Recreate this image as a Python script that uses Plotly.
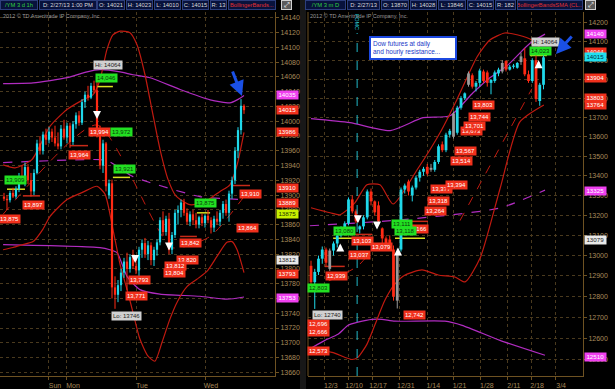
import math
import plotly.graph_objects as go

W, H = 615, 389

# ---------------- LEFT PANEL: /YM 3 d 1h (hourly) ----------------
L_open = [13898,13895,13893,13903,13898,13908,13925,13918,13938,13920,13905,13930,13970,13960,13982,13975,13986,13978,13970,13966,
          13990,13978,13994,13972,13996,14008,13998,14026,14036,14032,14048,14042,13985,13940,13970,13900,13916,13775,13765,13778,
          13795,13810,13800,13816,13804,13798,13826,13835,13820,13832,13812,13826,13836,13866,13850,13868,13826,13846,13876,13880,
          13890,13876,13864,13874,13866,13860,13870,13862,13872,13866,13856,13868,13864,13876,13888,13876,13902,13920,13960,13988,14021]
L_high = [13903,13900,13906,13910,13912,13930,13940,13944,13942,13930,13935,13975,13980,13986,13990,13992,13990,13994,13985,13995,
          14002,13998,13998,14000,14012,14014,14030,14040,14048,14052,14055,14064,13994,13975,13972,13921,13921,13790,13785,13800,
          13815,13822,13820,13826,13815,13830,13840,13842,13838,13836,13830,13840,13870,13878,13872,13876,13850,13880,13886,13894,
          13895,13882,13878,13880,13876,13872,13875,13874,13880,13870,13872,13878,13880,13892,13894,13906,13925,13965,13992,14030,14023]
L_low = [13892,13880,13890,13896,13895,13904,13915,13912,13915,13898,13900,13928,13955,13955,13968,13970,13972,13966,13962,13962,
         13975,13970,13964,13968,13990,13994,13995,14018,14028,14030,14038,13978,13935,13930,13905,13895,13760,13746,13755,13770,
         13788,13771,13795,13800,13793,13785,13815,13815,13812,13805,13804,13818,13832,13845,13845,13820,13820,13842,13860,13870,
         13872,13860,13858,13860,13855,13855,13858,13856,13862,13848,13850,13860,13858,13868,13872,13864,13895,13915,13950,13982,14010]
L_close = [13895,13893,13903,13898,13908,13925,13918,13938,13920,13905,13930,13970,13960,13982,13975,13986,13978,13970,13966,13990,
           13978,13994,13972,13996,14008,13998,14026,14036,14032,14048,14042,13985,13940,13970,13912,13916,13775,13765,13778,13795,
           13810,13800,13816,13804,13798,13826,13835,13820,13832,13812,13826,13836,13866,13850,13868,13826,13846,13876,13880,13890,
           13876,13864,13874,13866,13860,13870,13862,13872,13866,13856,13868,13864,13876,13888,13876,13902,13920,13960,13988,14021,14015]
L_day_tick_idx = [15, 21, 44, 67]
L_day_tick_txt = ["Sun", "Mon", "Tue", "Wed"]
L_price_ticks = list(range(13660, 14141, 20))

# Bollinger bands (hourly) and other study lines, as (bar index, price)
L_bbu_x = [-0.3,3.7,9.3,15.3,21,26.3,29.7,32,34.3,36.3,38.7,42,44.3,47,49.3,52,54.7,57.3,62,67,72,75.3,77.7,80]
L_bbu_y = [13941,13937,13948,13993,14016,14029,14036,14056,14097,14117,14122,14120,14104,14063,14016,13962,13921,13899,13887,13891,13905,13914,13941,13985]
L_bbl_x = [-0.3,3,6.3,9.7,13,15.3,21,26.3,31,33.7,36.3,38.7,41.3,43,45.3,48,50.3,52.7,55.3,57.7,61,64.3,67.7,71,74.3,76,77.7,80]
L_bbl_y = [13826,13829,13833,13837,13854,13871,13894,13904,13912,13901,13854,13806,13768,13741,13705,13682,13675,13701,13732,13755,13776,13786,13797,13817,13836,13837,13826,13795]
L_pu_x = [-0.3,9.7,21,27.7,32,38.7,43,48.7,58.7,68.7,75.3,77.7,80]
L_pu_y = [14051,14052,14059,14067,14070,14067,14063,14059,14043,14029,14025,14029,14035]
L_pl_x = [-0.3,32,35.3,37.7,41,45.3,52,65.3,74.3,80]
L_pl_y = [13833,13829,13826,13822,13790,13772,13766,13763,13759,13762]
L_pd_x = [-0.3,32,35.3,43,48.7,65.3,80]
L_pd_y = [13944,13948,13945,13925,13917,13898,13894]
L_zz_x = [-0.3,31,56,68.7,80]
L_zz_y = [13874,13995,13829,13844,13898]

L_red_lbl = ["13,875","13,897","13,964","13,994","13,793","13,771","13,842","13,820","13,812","13,804","13,910","13,864"]
L_red_x = [2,9.7,25,31.7,45,44.3,62.3,61.3,57.3,56.7,82.3,81.3]
L_red_y = [13867,13887,13955,13985,13785,13763,13835,13812,13804,13794,13901,13855]
L_grn_lbl = ["14,046","13,972","13,921","13,909","13,875"]
L_grn_x = [34.3,39.3,40,4,67]
L_grn_y = [14058,13985,13935,13920,13889]
L_gry_lbl = ["Hi: 14064", "Lo: 13746"]
L_gry_x = [34.7, 40.7]
L_gry_y = [14076, 13736]
L_dn_arrow_x = [31, 43.7, 55]
L_dn_arrow_y = [14003, 13808, 13825]
# short level markers: start bar, end bar, price
L_ylw_x0 = [31, 36.3, 1, 64.3]
L_ylw_x1 = [36.3, 42, 7, 68.7]
L_ylw_v = [14047, 13924, 13908, 13876]
L_rdm_x0 = [6.3, 22, 76.3, 58.7]
L_rdm_x1 = [12, 28, 82, 64.3]
L_rdm_v = [13899, 13967, 13913, 13844]
L_axis_lbl = ["14035","14015","13986","13910","13889","13875","13812","13793","13753"]
L_axis_val = [14035,14015,13986,13910,13889,13875,13812,13793,13760]
L_axis_col = ["mag","red","red","red","red","lime","white","red","mag"]

# ---------------- RIGHT PANEL: /YM 3 m D (daily) ----------------
R_open = [12950,12870,12920,12985,13030,12935,13025,13060,13100,13135,13160,13280,13220,13130,13145,13190,13320,13270,13250,13135,
          13085,13080,13030,12780,13030,13330,13370,13300,13340,13390,13420,13445,13440,13430,13470,13560,13530,13610,13720,13620,
          13750,13800,13930,13920,13860,13880,13940,13935,13880,13890,13930,13985,13995,13950,13965,13960,14020,14010,13925,13890,
          14000,13785,13870]
R_high = [12975,12935,13000,13045,13040,13035,13070,13110,13145,13170,13290,13300,13230,13150,13200,13330,13335,13275,13270,13140,
          13095,13100,13050,13035,13340,13360,13380,13350,13400,13430,13445,13460,13460,13480,13560,13575,13620,13640,13730,13760,
          13810,13830,13940,13930,13890,13955,13950,13945,13900,13945,13960,14000,14000,13975,13980,13990,14040,14064,13945,14010,
          14028,13880,14028]
R_low = [12860,12740,12905,12960,12950,12925,13000,13040,13090,13120,13150,13210,13160,13110,13130,13180,13250,13200,13150,13060,
         13040,13040,12780,12742,13020,13310,13300,13270,13330,13370,13400,13400,13420,13420,13460,13520,13520,13595,13590,13610,
         13740,13790,13860,13850,13835,13860,13880,13860,13820,13880,13915,13930,13940,13945,13955,13955,13975,13915,13880,13880,
         13780,13760,13846]
R_close = [12870,12920,12985,13030,12965,13025,13060,13100,13135,13160,13280,13220,13170,13145,13190,13320,13270,13215,13170,13085,
           13050,13055,12800,13020,13330,13350,13320,13340,13390,13420,13435,13410,13430,13470,13550,13530,13610,13630,13600,13750,
           13800,13825,13870,13860,13880,13945,13890,13880,13895,13935,13950,13940,13950,13965,13970,13985,13990,13925,13890,14000,
           13795,13870,14015]
R_gray_idx = [5, 23, 32, 38, 42, 51, 56]
R_date_tick_idx = [3.7, 9.9, 16.3, 23.7, 31, 38, 45.3, 52.5, 58.7, 65.1]
R_date_tick_txt = ["12/3", "12/10", "12/17", "12/31", "1/14", "1/21", "1/28", "2/11", "2/18", "3/4"]
R_price_ticks = list(range(12500, 14201, 100))
R_event_idx = 12.3
R_event_txt = "FOMC"

R_bbu_x = [0,5.1,7.7,11.7,14.9,18.4,21.9,28.3,34.4,38.9,44.3,47.7,51.7,55.2,58.9,62.1]
R_bbu_y = [13238,13213,13203,13263,13354,13354,13257,13430,13620,13792,14018,14107,14145,14134,14107,14044]
R_bbl_x = [0,5.6,10.9,12.5,14.9,17.1,19.7,22.4,25.1,29.6,33.9,38.4,41.1,45.1,50.4,55.7,62.1]
R_bbl_y = [12542,12532,12498,12508,12570,12666,12782,12861,12905,12930,12905,12895,12871,12988,13334,13676,13764]
R_pu_x = [0,10.4,21.1,29.9,37.1,43.2,47.7,52.3,58.4,62.4]
R_pu_y = [13693,13672,13631,13698,13708,13828,13907,13971,14090,14139]
R_pl_x = [0.3,3.7,7.2,9.9,12.5,16.3,18.9,22.4,35.7,40.3,50.4,62.4]
R_pl_y = [12555,12589,12618,12661,12676,12690,12690,12681,12681,12661,12589,12518]
R_pd_x = [-0.3,23.7,50.4,62.4]
R_pd_y = [13148,13177,13237,13327]
R_zz1_x = [0.3,7.2,12.5,16.3,19.5]
R_zz1_y = [12842,12896,12949,13027,13100]
R_zz2_x = [39.7,58.9]
R_zz2_y = [13173,13849]

R_red_lbl = ["12,696","12,666","12,573","12,939","13,037","13,103","13,079","13,166","12,742","13,264","13,318","13,377",
             "13,394","13,514","13,567","13,673","13,701","13,744","13,803"]
R_red_x = [2.1,2.1,2.1,6.9,12.8,13.6,18.7,28.3,27.5,33.3,34.1,34.9,38.9,40,41.3,42.9,43.7,44.8,45.9]
R_red_y = [12665,12627,12536,12901,13002,13071,13042,13130,12710,13224,13274,13334,13354,13474,13525,13628,13654,13700,13763]
R_grn_lbl = ["12,803","13,080","13,111","13,118","14,023"]
R_grn_x = [2.1,8.8,24.3,25.3,61.3]
R_grn_y = [12842,13120,13155,13120,14049]
R_gry_lbl = ["Lo: 12740", "H: 14064"]
R_gry_x = [4.3, 62.4]
R_gry_y = [12710, 14097]
R_up_arrow_x = [7.8, 23.2, 60.7]
R_up_arrow_y = [13060, 13040, 14000]
R_dn_arrow_x = [12.5, 17.6]
R_dn_arrow_y = [13160, 13130]
R_ylw_x0 = [5.9, 22.4, 58.4]
R_ylw_x1 = [11.7, 30.4, 62.9]
R_ylw_v = [13086, 13086, 14025]
R_rdm_x0 = [3.7, 11, 26]
R_rdm_x1 = [9, 16.3, 31.2]
R_rdm_v = [12947, 13105, 13170]
R_axis_lbl = ["14140","14044","14015","13904","13803","13764","13325","13079","12510"]
R_axis_val = [14140,14044,14015,13904,13803,13764,13325,13079,12510]
R_axis_col = ["mag","red","cyan","red","red","red","mag","white","mag"]

# ---------------- styling ----------------
CYAN = "#1fd8ea"
RED = "#ff2a14"
GRAY = "#9a9a9a"
BROWN = "#6e5222"
TAN = "#a88a5a"
GRID = "#4a3a1e"
PURPLE = "#b02cc0"
BANDRED = "#c01a10"
FONT = "Liberation Sans"

BOX = {"red": ("#f0301c", "#ffffff"), "mag": ("#f040f0", "#ffffff"), "cyan": ("#20e0f0", "#003040"),
       "white": ("#e8e8e8", "#202020"), "lime": ("#c8f000", "#203000")}

fig = go.Figure()


def add_candles(o, h, l, c, gray, xa, ya, bw, minh):
    groups = {CYAN: ([], [], [], []), RED: ([], [], [], []), GRAY: ([], [], [], [])}
    for i in range(len(o)):
        if i in gray:
            col = GRAY
        elif c[i] >= o[i]:
            col = CYAN
        else:
            col = RED
        wx, wy, bx, by = groups[col]
        wx += [i, i, None]
        wy += [l[i], h[i], None]
        top, bot = max(o[i], c[i]), min(o[i], c[i])
        if top - bot < minh:
            top = bot + minh
        bx += [i, i, None]
        by += [bot, top, None]
    for col, (wx, wy, bx, by) in groups.items():
        fig.add_trace(go.Scatter(x=wx, y=wy, mode="lines", line=dict(color=col, width=1),
                                 xaxis=xa, yaxis=ya, hoverinfo="skip", showlegend=False))
        fig.add_trace(go.Scatter(x=bx, y=by, mode="lines", line=dict(color=col, width=bw),
                                 xaxis=xa, yaxis=ya, hoverinfo="skip", showlegend=False))


def add_line(xs, ys, xa, ya, color, width=1, dash="solid"):
    fig.add_trace(go.Scatter(x=xs, y=ys, mode="lines", line=dict(color=color, width=width, dash=dash, shape="spline", smoothing=0.6),
                             xaxis=xa, yaxis=ya, hoverinfo="skip", showlegend=False))


def add_marks(x0s, x1s, vs, xa, ya, color, width):
    xs, ys = [], []
    for a, b, v in zip(x0s, x1s, vs):
        xs += [a, b, None]
        ys += [v, v, None]
    fig.add_trace(go.Scatter(x=xs, y=ys, mode="lines", line=dict(color=color, width=width),
                             xaxis=xa, yaxis=ya, hoverinfo="skip", showlegend=False))


# study lines (behind candles)
add_line(L_pu_x, L_pu_y, "x", "y", PURPLE, 1.2)
add_line(L_pl_x, L_pl_y, "x", "y", PURPLE, 1.2)
add_line(L_pd_x, L_pd_y, "x", "y", PURPLE, 1.2, "dash")
add_line(L_bbu_x, L_bbu_y, "x", "y", BANDRED, 1.2)
add_line(L_bbl_x, L_bbl_y, "x", "y", BANDRED, 1.2)
add_line(L_zz_x, L_zz_y, "x", "y", BANDRED, 1.0, "dash")

add_line(R_pu_x, R_pu_y, "x2", "y2", PURPLE, 1.2)
add_line(R_pl_x, R_pl_y, "x2", "y2", PURPLE, 1.2)
add_line(R_pd_x, R_pd_y, "x2", "y2", PURPLE, 1.2, "dash")
add_line(R_bbu_x, R_bbu_y, "x2", "y2", BANDRED, 1.2)
add_line(R_bbl_x, R_bbl_y, "x2", "y2", BANDRED, 1.2)
add_line(R_zz1_x, R_zz1_y, "x2", "y2", BANDRED, 1.0, "dash")
add_line(R_zz2_x, R_zz2_y, "x2", "y2", BANDRED, 1.0, "dash")

add_marks(L_ylw_x0, L_ylw_x1, L_ylw_v, "x", "y", "#d8e020", 1.5)
add_marks(L_rdm_x0, L_rdm_x1, L_rdm_v, "x", "y", "#c82a18", 1.5)
add_marks(R_ylw_x0, R_ylw_x1, R_ylw_v, "x2", "y2", "#d8e020", 1.5)
add_marks(R_rdm_x0, R_rdm_x1, R_rdm_v, "x2", "y2", "#c82a18", 1.5)

add_candles(L_open, L_high, L_low, L_close, [], "x", "y", 2.2, 1.5)
add_candles(R_open, R_high, R_low, R_close, R_gray_idx, "x2", "y2", 2.8, 6)

ann = []


def lbl(text, x, y, xr, yr, bg, fg, logy=False):
    ann.append(dict(text=text, x=x, y=(math.log10(y) if logy else y), xref=xr, yref=yr, showarrow=False,
                    bgcolor=bg, font=dict(family=FONT, size=6, color=fg), borderpad=1, xanchor="center", yanchor="middle"))


for t, x, y in zip(L_red_lbl, L_red_x, L_red_y):
    lbl(t, x, y, "x", "y", "#f0301c", "#ffffff")
for t, x, y in zip(L_grn_lbl, L_grn_x, L_grn_y):
    lbl(t, x, y, "x", "y", "#22e022", "#0a3a0a")
for t, x, y in zip(L_gry_lbl, L_gry_x, L_gry_y):
    lbl(t, x, y, "x", "y", "#d0d0d0", "#202020")
for t, x, y in zip(R_red_lbl, R_red_x, R_red_y):
    lbl(t, x, y, "x2", "y2", "#f0301c", "#ffffff", True)
for t, x, y in zip(R_grn_lbl, R_grn_x, R_grn_y):
    lbl(t, x, y, "x2", "y2", "#22e022", "#0a3a0a", True)
for t, x, y in zip(R_gry_lbl, R_gry_x, R_gry_y):
    lbl(t, x, y, "x2", "y2", "#d0d0d0", "#202020", True)


def warrow(x, y, xr, yr, down):
    ann.append(dict(x=x, y=y, xref=xr, yref=yr, showarrow=True, arrowhead=2, arrowsize=0.8, arrowwidth=2,
                    arrowcolor="#ffffff", ax=0, ay=(-7 if down else 7), text=""))


for x, y in zip(L_dn_arrow_x, L_dn_arrow_y):
    warrow(x, y, "x", "y", True)
for x, y in zip(R_dn_arrow_x, R_dn_arrow_y):
    warrow(x, math.log10(y), "x2", "y2", True)
for x, y in zip(R_up_arrow_x, R_up_arrow_y):
    warrow(x, math.log10(y), "x2", "y2", False)

# price boxes on the axes
for t, v, c in zip(L_axis_lbl, L_axis_val, L_axis_col):
    bg, fg = BOX[c]
    ann.append(dict(text=t, x=276 / W, y=v, xref="paper", yref="y", xanchor="left", yanchor="middle", showarrow=False,
                    bgcolor=bg, font=dict(family=FONT, size=6.2, color=fg), borderpad=0.3, width=20))
for t, v, c in zip(R_axis_lbl, R_axis_val, R_axis_col):
    bg, fg = BOX[c]
    ann.append(dict(text=t, x=584 / W, y=math.log10(v), xref="paper", yref="y2", xanchor="left", yanchor="middle",
                    showarrow=False, bgcolor=bg, font=dict(family=FONT, size=6.2, color=fg), borderpad=0.3, width=20))

# header bars
L_header = [("/YM 3 d 1h", 0, 37, "#30d040"), ("D: 2/27/13 1:00 PM", 39, 96, "#d8d8d8"), ("O: 14021", 97, 124, "#d8d8d8"),
            ("H: 14023", 126, 152, "#d8d8d8"), ("L: 14010", 154, 180, "#d8d8d8"), ("C: 14015", 182, 208, "#d8d8d8"),
            ("R: 13", 210, 226, "#d8d8d8"), ("BollingerBands...", 228, 275, "#e03030")]
R_header = [("/YM 3 m D", 305, 345, "#30d040"), ("D: 2/27/13", 347, 379, "#d8d8d8"), ("O: 13870", 381, 408, "#d8d8d8"),
            ("H: 14028", 410, 436, "#d8d8d8"), ("L: 13846", 438, 465, "#d8d8d8"), ("C: 14015", 467, 493, "#d8d8d8"),
            ("R: 182", 495, 515, "#d8d8d8"), ("BollingerBandsSMA (CL...", 517, 582, "#e03030")]
for t, x0, x1, col in L_header + R_header:
    ann.append(dict(text=t, x=x0 / W, y=1 - 5.5 / H, xref="paper", yref="paper", xanchor="left", yanchor="middle",
                    showarrow=False, bgcolor="#08123c", bordercolor="#2c3e7c", borderwidth=1, borderpad=0,
                    width=x1 - x0 - 1, height=8, font=dict(family=FONT, size=5.8, color=col)))
for x0 in (281, 585):
    ann.append(dict(text="⤢", x=x0 / W, y=1 - 5.5 / H, xref="paper", yref="paper", xanchor="left", yanchor="middle",
                    showarrow=False, bgcolor="#5a5a5a", bordercolor="#d0d0d0", borderwidth=1, borderpad=0,
                    width=9, height=8, font=dict(family="DejaVu Sans", size=7, color="#ffffff")))

for x0 in (1, 308):
    ann.append(dict(text="2012 © TD Ameritrade IP Company, Inc.", x=x0 / W, y=1 - 15.5 / H, xref="paper", yref="paper",
                    xanchor="left", yanchor="middle", showarrow=False,
                    font=dict(family=FONT, size=5.5, color="#9a9a9a")))

# event marker text (rotated) beside the dashed cyan line
ann.append(dict(text=R_event_txt, x=R_event_idx, y=1 - 22 / H, xref="x2", yref="paper", showarrow=False, textangle=90,
                xanchor="center", yanchor="middle", font=dict(family=FONT, size=5.5, color="#20c8d8")))

# callout and blue arrows
ann.append(dict(text="Dow futures at daily<br>and hourly resistance...", x=413 / W, y=1 - 48.5 / H, xref="paper", yref="paper",
                xanchor="center", yanchor="middle", showarrow=False, align="left", bgcolor="#ffffff", bordercolor="#1c48e0",
                borderwidth=2, borderpad=2, width=80, font=dict(family=FONT, size=6.5, color="#1838c8")))
ann.append(dict(x=242 / W, y=1 - 96 / H, xref="paper", yref="paper", showarrow=True, arrowhead=2, arrowsize=1,
                arrowwidth=3, arrowcolor="#1a50e6", ax=-10, ay=-26, text=""))
ann.append(dict(x=556 / W, y=1 - 54 / H, xref="paper", yref="paper", showarrow=True, arrowhead=2, arrowsize=1,
                arrowwidth=3, arrowcolor="#1a50e6", ax=17, ay=-19, text=""))

shapes = [
    dict(type="rect", xref="paper", yref="paper", x0=300 / W, x1=306 / W, y0=0, y1=1, fillcolor="#181818", line_width=0, layer="below"),
    dict(type="line", xref="paper", yref="paper", x0=308 / W, x1=308 / W, y0=1 - 376 / H, y1=1 - 12 / H, line=dict(color=BROWN, width=1)),
    dict(type="line", xref="x2", yref="paper", x0=R_event_idx, x1=R_event_idx, y0=1 - 376 / H, y1=1 - 33 / H,
         line=dict(color="#20b8c8", width=1, dash="dash")),
]

ydom = [1 - 376 / H, 1 - 12 / H]
axis_common = dict(showline=True, linecolor=BROWN, linewidth=1, ticks="outside", tickcolor=BROWN, ticklen=3,
                   tickfont=dict(family=FONT, size=7, color=TAN), showgrid=True, gridcolor=GRID, griddash="dot",
                   gridwidth=1, zeroline=False, fixedrange=True)

fig.update_layout(
    width=W, height=H, margin=dict(l=0, r=0, t=0, b=0),
    paper_bgcolor="#000000", plot_bgcolor="#000000", showlegend=False,
    xaxis=dict(domain=[0, 275 / W], range=[-1.33, 90.33], anchor="y", tickmode="array",
               tickvals=L_day_tick_idx, ticktext=L_day_tick_txt, ticklabelshift=6, **axis_common),
    yaxis=dict(domain=ydom, range=[13655, 14148], anchor="x", side="right", tickmode="array",
               tickvals=L_price_ticks, ticktext=[str(v) for v in L_price_ticks], **axis_common),
    xaxis2=dict(domain=[308 / W, 583 / W], range=[-0.8, 72.53], anchor="y2", tickmode="array",
                tickvals=R_date_tick_idx, ticktext=R_date_tick_txt, ticklabelshift=6, **axis_common),
    yaxis2=dict(domain=ydom, type="log", range=[math.log10(12420), math.log10(14258)], anchor="x2", side="right",
                tickmode="array", tickvals=R_price_ticks, ticktext=[str(v) for v in R_price_ticks], **axis_common),
    annotations=ann, shapes=shapes,
)

fig.write_html("out.html")
